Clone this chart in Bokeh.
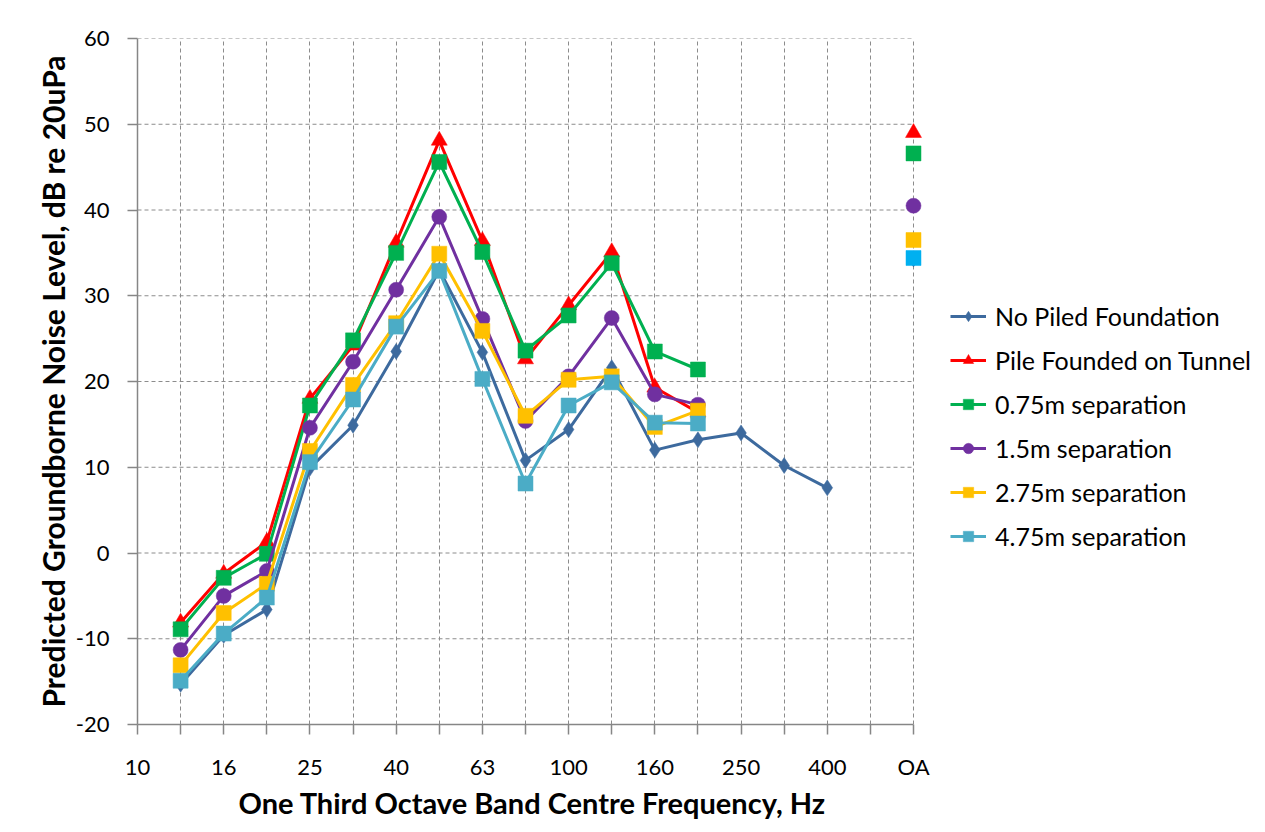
import math
from bokeh.plotting import figure
from bokeh.models import Range1d, FixedTicker, Legend, LegendItem, ColumnDataSource, Title
from bokeh.embed import file_html
from bokeh.resources import INLINE

nan = float("nan")

categories = ["10", "12.5", "16", "20", "25", "31.5", "40", "50", "63", "80",
              "100", "125", "160", "200", "250", "315", "400", "500", "OA"]
tick_labels = ["10", "", "16", "", "25", "", "40", "", "63", "", "100", "", "160",
               "", "250", "", "400", "", "OA"]
y_ticks = [-20, -10, 0, 10, 20, 30, 40, 50, 60]
y_tick_labels = ["-20", "-10", "0", "10", "20", "30", "40", "50", "60"]

no_piled = [nan, -15.3, -9.6, -6.6, 9.9, 14.9, 23.5, 33.0, 23.4, 10.8, 14.4, 21.6, 12.0, 13.2, 14.0, 10.2, 7.6, nan, 34.3]
pile_tunnel = [nan, -8.1, -2.4, 1.3, 18.0, 24.2, 36.2, 48.1, 36.4, 22.6, 28.9, 35.1, 19.3, 16.4, nan, nan, nan, nan, 49.0]
sep_075 = [nan, -8.9, -2.9, -0.1, 17.2, 24.8, 35.0, 45.6, 35.1, 23.6, 27.7, 33.8, 23.5, 21.4, nan, nan, nan, nan, 46.6]
sep_15 = [nan, -11.3, -5.0, -2.1, 14.6, 22.3, 30.7, 39.2, 27.3, 15.4, 20.6, 27.4, 18.5, 17.3, nan, nan, nan, nan, 40.5]
sep_275 = [nan, -13.1, -7.0, -3.6, 11.9, 19.6, 26.8, 34.9, 25.9, 16.0, 20.2, 20.6, 14.7, 16.6, nan, nan, nan, nan, 36.5]
sep_475 = [nan, -14.9, -9.4, -5.2, 10.6, 17.9, 26.4, 32.9, 20.3, 8.1, 17.2, 19.9, 15.2, 15.1, nan, nan, nan, nan, 34.4]

series = [
    ("No Piled Foundation", no_piled, "#3D6A9E", "diamond", 16, "#3D6A9E"),
    ("Pile Founded on Tunnel", pile_tunnel, "#FF0000", "triangle", 16, "#FF0000"),
    ("0.75m separation", sep_075, "#00B050", "square", 15, "#00B050"),
    ("1.5m separation", sep_15, "#7030A0", "circle", 15, "#7030A0"),
    ("2.75m separation", sep_275, "#FFC000", "square", 15, "#FFC000"),
    ("4.75m separation", sep_475, "#4BACC6", "square", 15, "#00B0F0"),
]

FONT = "Lato"

W = 1265
LEFT, TOP = 137, 38
FRAME_H = 686
PLOT_W = 776  # visible chart area width (px) from first to last category
FRAME_W = W - LEFT
n_cat = len(categories)
x_last = n_cat - 1
x_end = x_last * FRAME_W / PLOT_W  # extend range so the legend sits right of the chart

p = figure(frame_width=FRAME_W, frame_height=FRAME_H, output_backend="svg", toolbar_location=None,
           x_range=Range1d(0, x_end), y_range=Range1d(y_ticks[0], y_ticks[-1]),
           min_border_left=LEFT, min_border_right=0, min_border_top=TOP, min_border_bottom=0)
p.outline_line_color = None
p.background_fill_color = "white"

# horizontal dashed gridlines restricted to the category span
p.ygrid.visible = False
p.segment(x0=[0] * len(y_ticks), x1=[x_last] * len(y_ticks), y0=y_ticks, y1=y_ticks,
          line_color="#8C8C8C", line_dash="4 3", line_width=1, level="underlay")

xs = list(range(n_cat))
items = []
for name, vals, color, marker, size, oa_color in series:
    main_x = xs[:x_last]
    main_y = vals[:x_last]
    src = ColumnDataSource(dict(x=main_x, y=main_y))
    lr = p.line("x", "y", source=src, line_color=color, line_width=3)
    pts = ColumnDataSource(dict(x=[x for x, v in zip(main_x, main_y) if not math.isnan(v)],
                                y=[v for v in main_y if not math.isnan(v)]))
    sr = p.scatter("x", "y", source=pts, marker=marker, size=size, fill_color=color,
                   line_color=color, line_width=0.5)
    oa = ColumnDataSource(dict(x=[xs[x_last]], y=[vals[x_last]]))
    p.scatter("x", "y", source=oa, marker=marker, size=size, fill_color=oa_color,
              line_color=oa_color, line_width=0.5)
    items.append(LegendItem(label=name, renderers=[lr, sr]))

p.xaxis.ticker = FixedTicker(ticks=xs)
p.xaxis.bounds = (0, x_last)
p.xaxis.major_label_overrides = {i: t for i, t in enumerate(tick_labels)}
p.yaxis.ticker = FixedTicker(ticks=y_ticks)
p.yaxis.major_label_overrides = {v: t for v, t in zip(y_ticks, y_tick_labels)}

for ax in (p.xaxis, p.yaxis):
    ax.axis_line_color = "#868686"
    ax.axis_line_width = 1.5
    ax.major_tick_line_color = "#868686"
    ax.major_tick_line_width = 1.5
    ax.minor_tick_line_color = None
    ax.major_tick_in = 0
    ax.major_label_text_font = FONT
    ax.major_label_text_font_size = "22px"
    ax.major_label_text_color = "#000000"
    ax.axis_label_text_font = FONT
    ax.axis_label_text_font_style = "bold"
    ax.axis_label_text_color = "#000000"

p.yaxis.axis_label_text_font_size = "30px"
p.xaxis.major_tick_out = 10
p.yaxis.major_tick_out = 10
p.xaxis.major_label_standoff = 18
p.yaxis.major_label_standoff = 18
p.yaxis.axis_label = "Predicted Groundborne Noise Level, dB re 20uPa"
p.yaxis.axis_label_standoff = 2

# x-axis title centred under the category span (not the whole frame)
x_title = Title(text="One Third Octave Band Centre Frequency, Hz", align="left", offset=101,
                text_font=FONT, text_font_size="29px", text_font_style="bold",
                text_color="#000000", standoff=1)
p.add_layout(x_title, "below")

p.xgrid.grid_line_color = "#8C8C8C"
p.xgrid.grid_line_dash = "4 3"
p.xgrid.grid_line_width = 1
p.xgrid.ticker = FixedTicker(ticks=xs)

legend = Legend(items=items, location=(PLOT_W + 37, 173))
legend.label_text_font = FONT
legend.label_text_font_size = "25px"
legend.label_text_color = "#000000"
legend.glyph_width = 36
legend.glyph_height = 26
legend.label_height = 26
legend.spacing = 14
legend.label_standoff = 9
legend.border_line_color = None
legend.background_fill_alpha = 0
legend.padding = 0
legend.margin = 0
p.add_layout(legend)

open("out.html", "w").write(file_html(p, INLINE))
